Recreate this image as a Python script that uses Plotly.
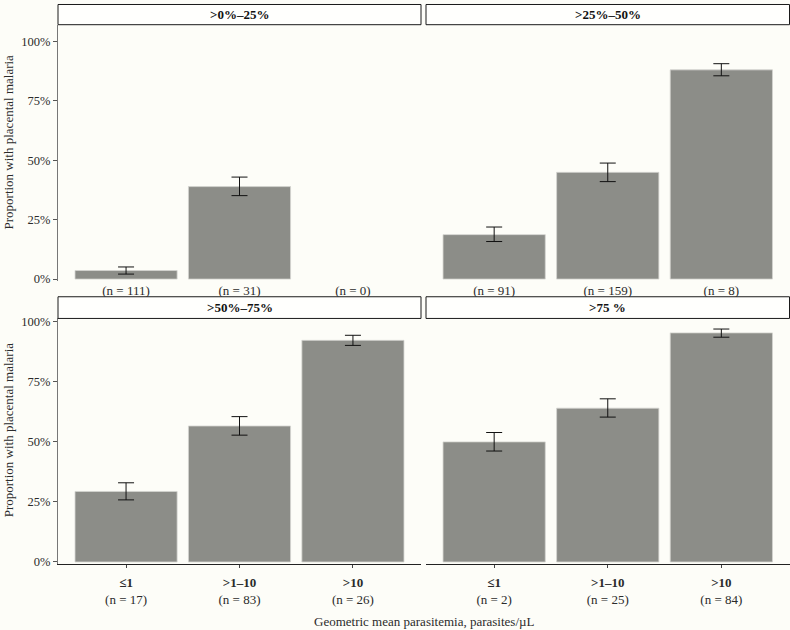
import plotly.graph_objects as go

W, H = 790, 630

categories = ["≤1", ">1–10", ">10"]
panel_titles = [">0%–25%", ">25%–50%", ">50%–75%", ">75 %"]

n_0_25 = [111, 31, 0]
n_25_50 = [91, 159, 8]
n_50_75 = [17, 83, 26]
n_75 = [2, 25, 84]

prop_0_25 = [0.036, 0.389, None]
prop_25_50 = [0.187, 0.449, 0.880]
prop_50_75 = [0.293, 0.565, 0.921]
prop_75 = [0.499, 0.639, 0.952]

hi_0_25 = [0.051, 0.429, None]
hi_25_50 = [0.219, 0.488, 0.906]
hi_50_75 = [0.329, 0.604, 0.942]
hi_75 = [0.538, 0.678, 0.968]

lo_0_25 = [0.021, 0.351, None]
lo_25_50 = [0.158, 0.410, 0.855]
lo_50_75 = [0.258, 0.527, 0.900]
lo_75 = [0.461, 0.602, 0.934]

FONT = "Liberation Serif, DejaVu Serif, serif"
BG = "#FDFDF8"
BAR = "#8C8D88"
TXT = "#2b2b2b"


def px(x):
    return x / W


def py(y):
    return 1 - y / H


panels = [
    dict(n=n_0_25, p=prop_0_25, hi=hi_0_25, lo=lo_0_25, x=(58, 421), y=(21, 281), strip=(0.5, 21), top=True, left=True),
    dict(n=n_25_50, p=prop_25_50, hi=hi_25_50, lo=lo_25_50, x=(426, 789.5), y=(21, 281), strip=(0.5, 21), top=True, left=False),
    dict(n=n_50_75, p=prop_50_75, hi=hi_50_75, lo=lo_50_75, x=(58, 421), y=(319, 568), strip=(297, 319), top=False, left=True),
    dict(n=n_75, p=prop_75, hi=hi_75, lo=lo_75, x=(426, 789.5), y=(319, 568), strip=(297, 319), top=False, left=False),
]

fig = go.Figure()
shapes = []
annotations = []

for i, pn in enumerate(panels):
    k = "" if i == 0 else str(i + 1)
    xa, ya = "x" + k, "y" + k
    err_plus = [None if (h is None or v is None) else h - v for h, v in zip(pn["hi"], pn["p"])]
    err_minus = [None if (l is None or v is None) else v - l for l, v in zip(pn["lo"], pn["p"])]
    fig.add_trace(go.Bar(
        x=categories, y=pn["p"], xaxis=xa, yaxis=ya, width=0.9,
        marker=dict(color=BAR, line=dict(color="#d4d4d0", width=0.8)),
        error_y=dict(type="data", array=err_plus, arrayminus=err_minus, symmetric=False,
                     color="#111111", thickness=1, width=8),
        showlegend=False,
    ))
    if pn["top"]:
        ticktext = [f"(n = {n})" for n in pn["n"]]
        yr = [-0.008, 1.07]
    else:
        ticktext = [f"<b>{c}</b><br>(n = {n})" for c, n in zip(categories, pn["n"])]
        yr = [-0.008, 1.012]
    fig.layout["xaxis" + k] = dict(
        domain=[px(pn["x"][0]), px(pn["x"][1])], anchor=ya,
        type="category", categoryorder="array", categoryarray=categories,
        range=[-0.6, 2.6], tickmode="array", tickvals=categories, ticktext=ticktext,
        showline=not pn["top"], linecolor="#222222", linewidth=1,
        ticks="" if pn["top"] else "outside", ticklen=3, tickcolor="#444444",
        ticklabelstandoff=0 if pn["top"] else 4,
        showgrid=False, zeroline=False,
        tickfont=dict(family=FONT, size=13, color=TXT),
    )
    fig.layout["yaxis" + k] = dict(
        domain=[py(pn["y"][1]), py(pn["y"][0])], anchor=xa,
        range=yr, tickvals=[0, 0.25, 0.5, 0.75, 1.0], tickformat=".0%",
        showticklabels=pn["left"], showline=pn["left"], linecolor="#777777", linewidth=1,
        ticks="outside" if pn["left"] else "", ticklen=4, tickcolor="#555555",
        showgrid=False, zeroline=False,
        tickfont=dict(family=FONT, size=12.5, color=TXT),
    )
    # strip
    shapes.append(dict(type="rect", xref="paper", yref="paper",
                       x0=px(pn["x"][0]), x1=px(pn["x"][1]), y0=py(pn["strip"][1]), y1=py(pn["strip"][0]),
                       line=dict(color="#1a1a1a", width=1), fillcolor="#FFFFFD", layer="above"))
    annotations.append(dict(xref="paper", yref="paper",
                            x=px((pn["x"][0] + pn["x"][1]) / 2), y=py((pn["strip"][0] + pn["strip"][1]) / 2),
                            text=f"<b>{panel_titles[i]}</b>", showarrow=False,
                            font=dict(family=FONT, size=13, color="#111111"),
                            xanchor="center", yanchor="middle"))

# y axis titles (one per row)
for yc in [(0 + 281) / 2, (297 + 568) / 2]:
    annotations.append(dict(xref="paper", yref="paper", x=px(8), y=py(yc),
                            text="Proportion with placental malaria", textangle=-90, showarrow=False,
                            font=dict(family=FONT, size=13, color=TXT),
                            xanchor="center", yanchor="middle"))

annotations.append(dict(xref="paper", yref="paper", x=px(424), y=py(626),
                        text="Geometric mean parasitemia, parasites/µL", showarrow=False,
                        font=dict(family=FONT, size=13, color=TXT),
                        xanchor="center", yanchor="middle"))

fig.update_layout(
    width=W, height=H, margin=dict(l=0, r=0, t=0, b=0),
    paper_bgcolor=BG, plot_bgcolor=BG,
    shapes=shapes, annotations=annotations, bargap=0.1,
    font=dict(family=FONT, color=TXT),
)

fig.write_html("out.html", config={"displayModeBar": False},
               post_script="document.body.style.margin='0';document.body.style.overflow='hidden';document.body.style.background='" + BG + "';")
